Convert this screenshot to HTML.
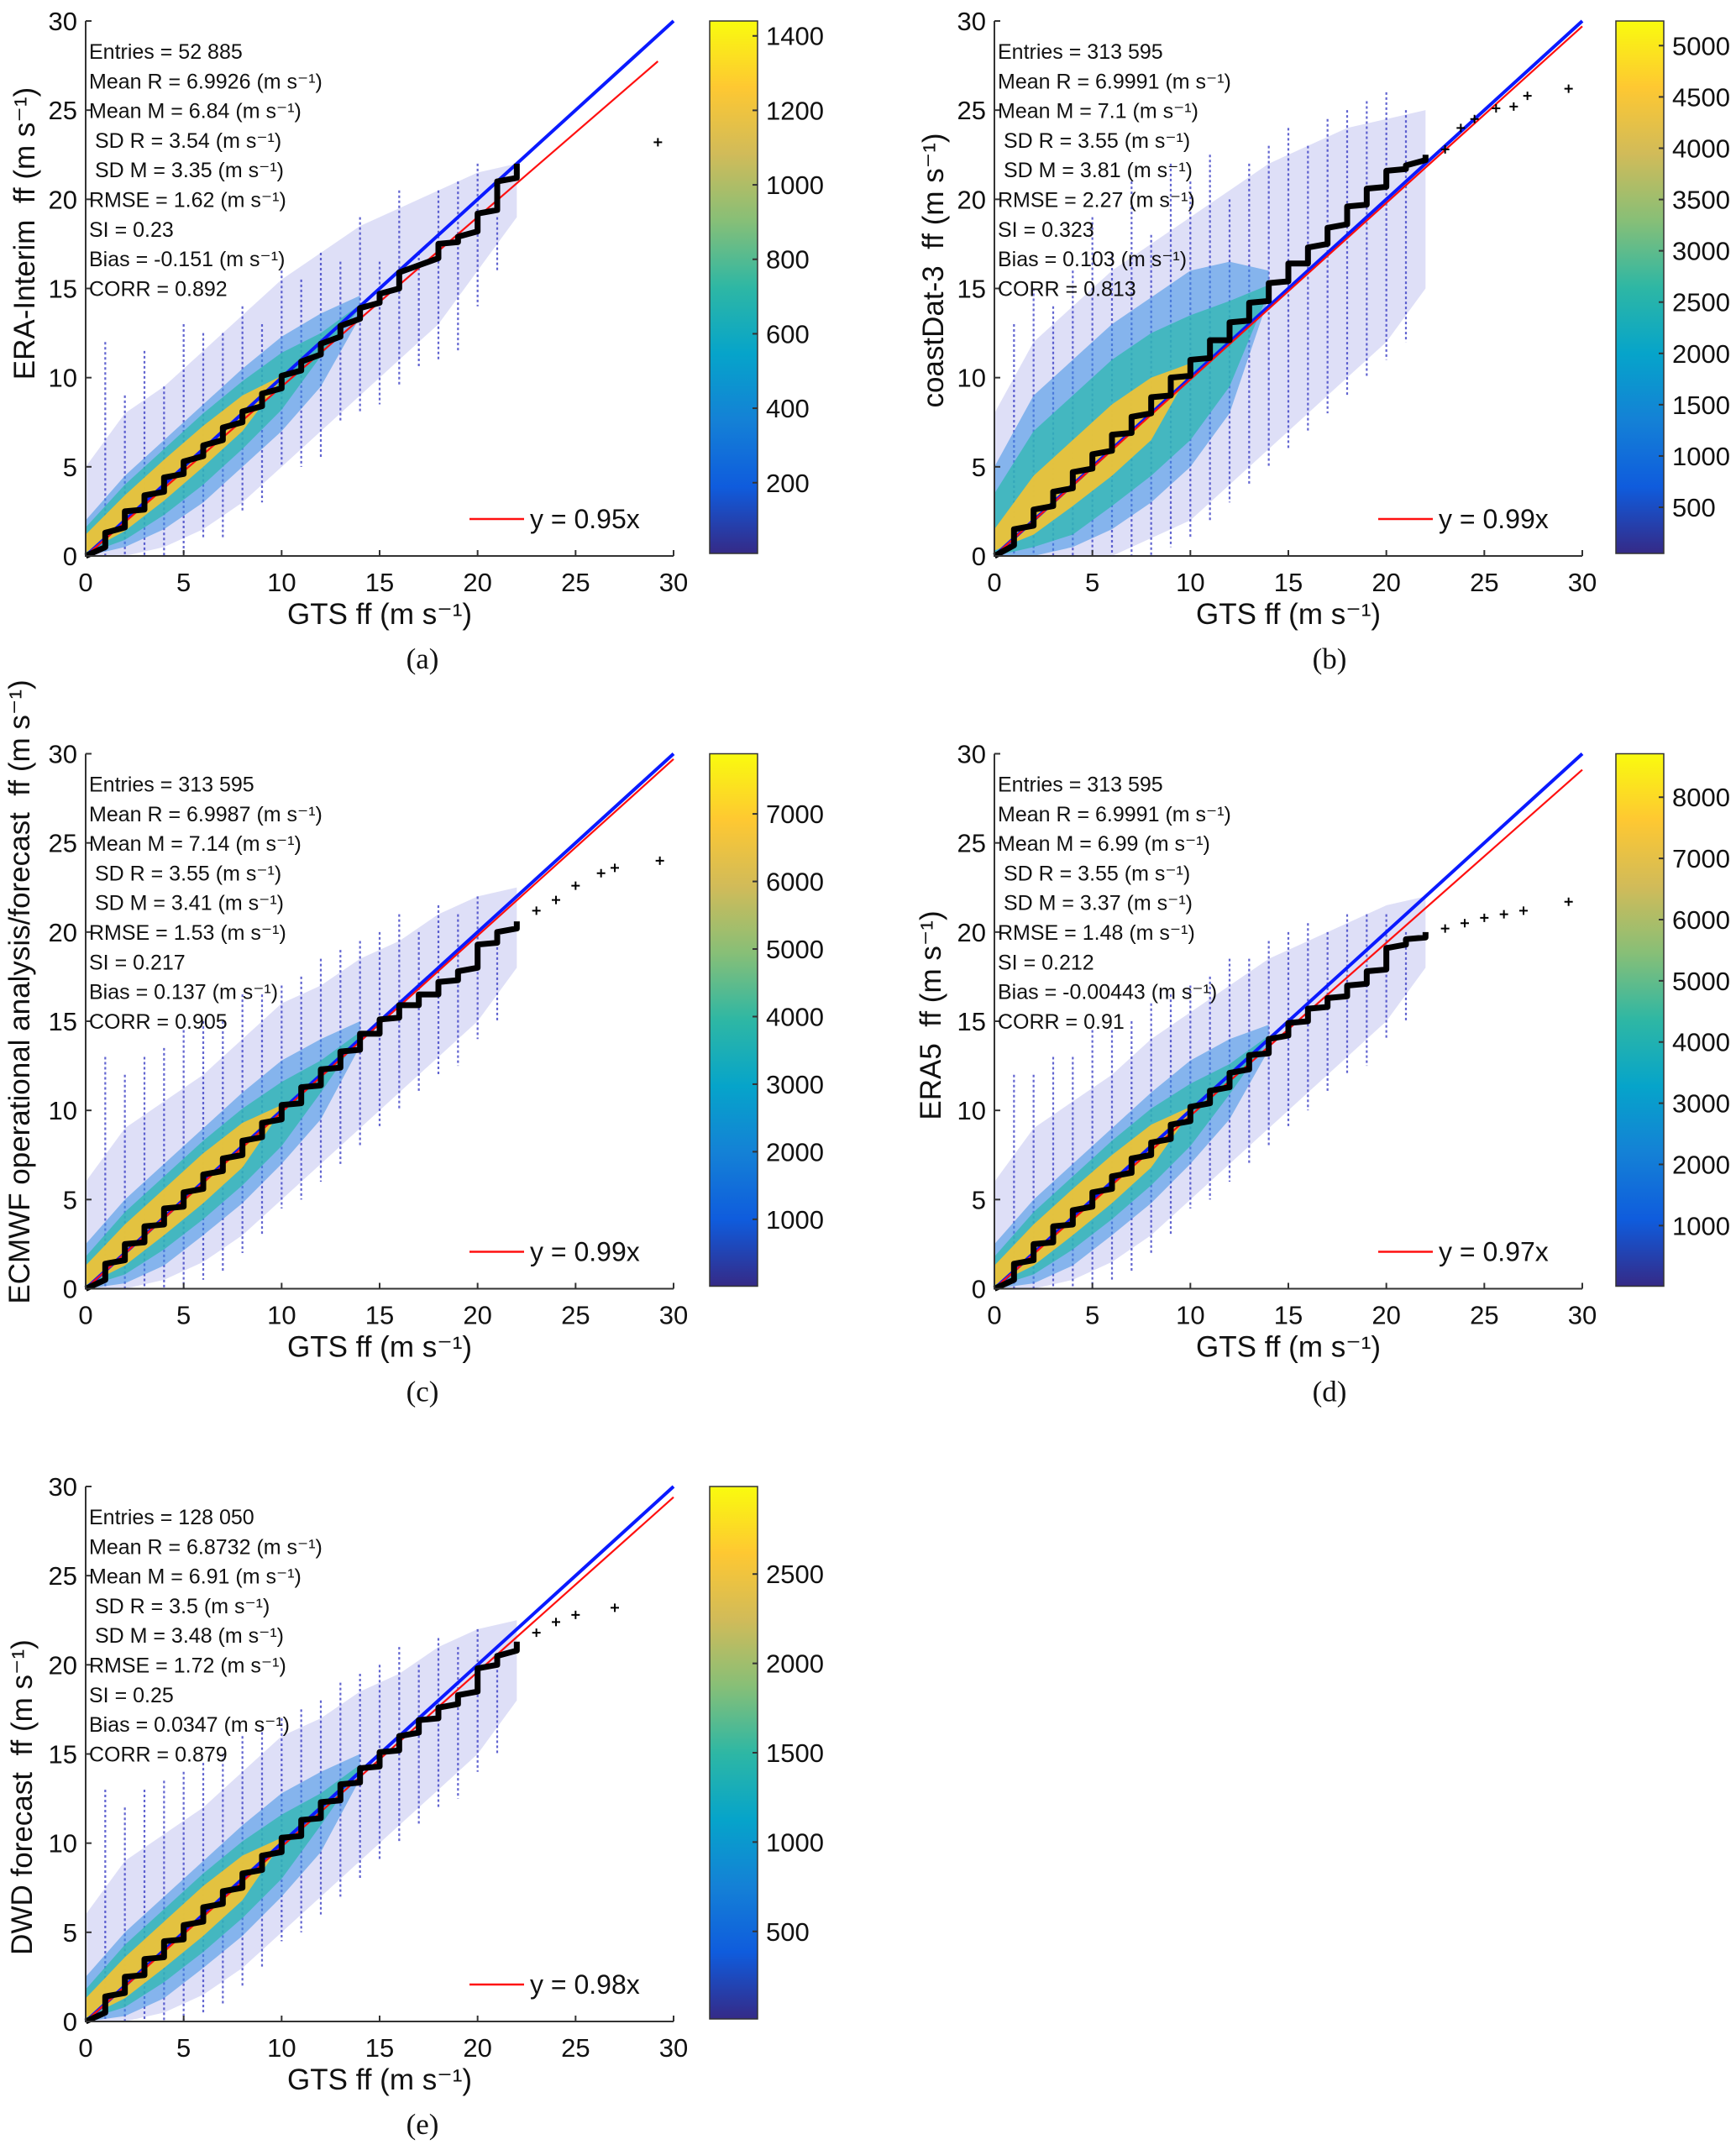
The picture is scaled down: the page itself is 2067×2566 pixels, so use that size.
<!DOCTYPE html>
<html><head><meta charset="utf-8"><style>
html,body{margin:0;padding:0;background:#fff}
svg{display:block}
text{font-family:"Liberation Sans","DejaVu Sans",sans-serif;fill:#111;white-space:pre}
</style></head><body>
<svg id="fig" width="2067" height="2566" viewBox="0 0 2067 2566" xmlns="http://www.w3.org/2000/svg">
<defs>
<linearGradient id="parula" x1="0" y1="1" x2="0" y2="0">
<stop offset="0" stop-color="#352A87"/><stop offset="0.125" stop-color="#0F5CDD"/><stop offset="0.25" stop-color="#1481D6"/><stop offset="0.375" stop-color="#06A4CA"/><stop offset="0.5" stop-color="#2EB7A4"/><stop offset="0.625" stop-color="#87BF77"/><stop offset="0.75" stop-color="#D1BB59"/><stop offset="0.875" stop-color="#FEC832"/><stop offset="1" stop-color="#F9FB0E"/>
</linearGradient>
</defs>
</svg>
<script>
// ---- shared axis data ----
const axisTicks=[0,5,10,15,20,25,30];
const cloudX=[0,2,4,6,8,10,12,14,16,18,20,22];
const midX=[0,2,4,6,8,10,12,14];
const coreX=[0,2,4,6,8,10];
const stairX=[0,1,2,3,4,5,6,7,8,9,10,11,12,13,14,15,16,17,18,19,20,21,22];
const streakX=[1,2,3,4,5,6,7,8,9,10,11,12,13,14,15,16,17,18,19,20,21];

// ---- panel (a) ERA-Interim ----
const statsA=["Entries = 52 885","Mean R = 6.9926 (m s⁻¹)","Mean M = 6.84 (m s⁻¹)"," SD R = 3.54 (m s⁻¹)"," SD M = 3.35 (m s⁻¹)","RMSE = 1.62 (m s⁻¹)","SI = 0.23","Bias = -0.151 (m s⁻¹)","CORR = 0.892"];
const outerHiA=[5,8,9.5,11.5,13.5,15.5,17,18.5,19.5,20.5,21.5,22];
const outerLoA=[0,0,0.5,1.5,3,5,7,9,11,13,16,19];
const midHiA=[2,4.5,6.5,8.5,10.5,12.3,13.6,14.6];
const midLoA=[0,0.5,1.5,3,5,7,9.5,13.4];
const innerHiA=[1.6,4,6,8,9.8,11.4,12.5,14.1];
const innerLoA=[0.1,0.9,2.3,4,6,8.2,11.2,13.9];
const coreHiA=[1.2,3.4,5.4,7.3,9.0,10.1];
const coreLoA=[0.2,1.4,3.1,5.0,7.0,9.9];
const streakTopA=[12,9,11.5,9.5,13,12.5,12.5,14,13,16,15.5,17,16.5,19,16.5,20.5,17,20.5,21,22,19];
const streakBotA=[0,0,0,0,0,1,1,2.5,3,5,5,5.5,7.5,8,8.5,9.5,10.5,11,11.5,14,16];
const stairLoA=[0,0.5,1.6,2.6,3.6,4.6,5.6,6.5,7.5,8.4,9.4,10.4,11.3,12.3,13.3,14.2,15.0,16.3,16.7,17.6,18.2,19.4,21.2];
const stairHiA=[0,1.3,2.5,3.4,4.4,5.3,6.2,7.2,8.1,9.1,10.1,10.9,11.9,12.9,13.9,14.7,15.9,16.3,17.5,17.9,19.2,21.0,22.0];
const tailXA=[29.2];
const tailYA=[23.2];
const slopeA=0.95, fitEndA=29.2;
const cbTicksA=[200,400,600,800,1000,1200,1400];
const cbRangeA=[10,1440];

// ---- panel (b) coastDat-3 ----
const statsB=["Entries = 313 595","Mean R = 6.9991 (m s⁻¹)","Mean M = 7.1 (m s⁻¹)"," SD R = 3.55 (m s⁻¹)"," SD M = 3.81 (m s⁻¹)","RMSE = 2.27 (m s⁻¹)","SI = 0.323","Bias = 0.103 (m s⁻¹)","CORR = 0.813"];
const outerHiB=[8,12,14,16,17.5,19,20.5,22,23,24,24.5,25];
const outerLoB=[0,0,0,0,1,2,4,6,8,10,12,15];
const midHiB=[5,9,11,13,14.5,16,16.5,16];
const midLoB=[0,0,0.5,1.5,3,5,8,14.5];
const innerHiB=[3.5,7,9,11,12.5,13.5,14.3,15.2];
const innerLoB=[0,0.5,1.2,2.8,4.5,6.5,9.5,14.8];
const coreHiB=[1.5,4.5,6.5,8.5,10,10.8];
const coreLoB=[0.3,1.2,2.8,4.5,6.5,10.4];
const streakTopB=[13,15,14,16,19,17,21,18,22,21,22.5,20,22,23,24,23,24.5,25,25.5,26,25];
const streakBotB=[0,0,0,0,0,0,0,0,0.5,1,2,3,4,5,6,7,8,9,10,11,12];
const stairLoB=[0,0.6,1.7,2.8,3.8,4.9,5.9,6.9,8.0,9.0,10.1,11.1,12.1,13.2,14.3,15.4,16.4,17.5,18.6,19.7,20.7,21.7,22.2];
const stairHiB=[0,1.5,2.6,3.6,4.7,5.7,6.8,7.8,8.9,10.0,11.0,12.1,13.1,14.2,15.3,16.4,17.3,18.4,19.6,20.6,21.6,21.9,22.5];
const tailXB=[23,23.8,24.5,25.6,26.5,27.2,29.3];
const tailYB=[22.8,24,24.5,25.1,25.2,25.8,26.2];
const slopeB=0.99, fitEndB=30;
const cbTicksB=[500,1000,1500,2000,2500,3000,3500,4000,4500,5000];
const cbRangeB=[50,5240];

// ---- panel (c) ECMWF ----
const statsC=["Entries = 313 595","Mean R = 6.9987 (m s⁻¹)","Mean M = 7.14 (m s⁻¹)"," SD R = 3.55 (m s⁻¹)"," SD M = 3.41 (m s⁻¹)","RMSE = 1.53 (m s⁻¹)","SI = 0.217","Bias = 0.137 (m s⁻¹)","CORR = 0.905"];
const outerHiC=[6,9,10.5,12,14,16,17,18.5,19.5,21,22,22.5];
const outerLoC=[0,0,0.5,1.5,3,5,7,9,11,13,15,18];
const midHiC=[2.5,5,7,9,11,12.8,14,15];
const midLoC=[0,0.3,1.3,3,4.8,7,9.5,13.6];
const innerHiC=[1.8,4.3,6.3,8.3,10.1,11.6,12.8,14.4];
const innerLoC=[0.1,0.8,2.2,3.9,5.8,8,11,14.2];
const coreHiC=[1.3,3.6,5.6,7.6,9.3,10.3];
const coreLoC=[0.2,1.3,3,4.8,6.8,10];
const streakTopC=[13,12,13,13.5,14.5,15,15,16.5,16.5,17,17.5,18.5,19,19.5,20,21,20,21.5,21,22,20];
const streakBotC=[0,0,0,0,0,0.5,1,2,3,4.5,5,6,7,8,9,10,11,12,12.5,14,15];
const stairLoC=[0,0.5,1.6,2.6,3.6,4.6,5.6,6.6,7.5,8.5,9.5,10.4,11.4,12.4,13.4,14.3,15.2,15.9,16.5,17.3,18.0,19.4,20.2];
const stairHiC=[0,1.4,2.5,3.5,4.5,5.4,6.4,7.3,8.3,9.3,10.3,11.3,12.3,13.3,14.3,15.1,15.9,16.5,17.2,17.8,19.3,20.0,20.6];
const tailXC=[23,24,25,26.3,27,29.3];
const tailYC=[21.2,21.8,22.6,23.3,23.6,24];
const slopeC=0.99, fitEndC=30;
const cbTicksC=[1000,2000,3000,4000,5000,6000,7000];
const cbRangeC=[10,7890];

// ---- panel (d) ERA5 ----
const statsD=["Entries = 313 595","Mean R = 6.9991 (m s⁻¹)","Mean M = 6.99 (m s⁻¹)"," SD R = 3.55 (m s⁻¹)"," SD M = 3.37 (m s⁻¹)","RMSE = 1.48 (m s⁻¹)","SI = 0.212","Bias = -0.00443 (m s⁻¹)","CORR = 0.91"];
const outerHiD=[6,9,10.5,12,14,15.5,17,18.5,19.5,20.5,21.5,22];
const outerLoD=[0,0,0.5,1.5,3,5,7,9,11,13,15,18];
const midHiD=[2.5,5,7,9,11,12.8,14,14.8];
const midLoD=[0,0.3,1.3,3,4.8,7,9.5,13.4];
const innerHiD=[1.8,4.3,6.3,8.3,10.1,11.5,12.6,14.2];
const innerLoD=[0.1,0.8,2.2,3.9,5.8,8,10.9,14];
const coreHiD=[1.3,3.6,5.6,7.5,9.2,10.2];
const coreLoD=[0.2,1.3,3,4.8,6.8,9.9];
const streakTopD=[12,12,13,13,14.5,14.5,15,16,16.5,17,17.5,18.5,18.5,19.5,20,20.5,20,21,21,21,20];
const streakBotD=[0,0,0,0,0,0.5,1,2,3,4.5,5,6,7,8,9,10,11,12,12.5,14,15];
const stairLoD=[0,0.5,1.6,2.6,3.6,4.6,5.6,6.5,7.5,8.4,9.4,10.4,11.3,12.3,13.2,14.2,15.0,15.8,16.4,17.1,17.9,19.3,19.7];
const stairHiD=[0,1.4,2.5,3.5,4.4,5.4,6.3,7.3,8.2,9.2,10.2,11.1,12.1,13.1,14.0,14.9,15.7,16.3,17.0,17.8,19.1,19.6,20.0];
const tailXD=[23,24,25,26,27,29.3];
const tailYD=[20.2,20.5,20.8,21,21.2,21.7];
const slopeD=0.97, fitEndD=30;
const cbTicksD=[1000,2000,3000,4000,5000,6000,7000,8000];
const cbRangeD=[10,8710];

// ---- panel (e) DWD ----
const statsE=["Entries = 128 050","Mean R = 6.8732 (m s⁻¹)","Mean M = 6.91 (m s⁻¹)"," SD R = 3.5 (m s⁻¹)"," SD M = 3.48 (m s⁻¹)","RMSE = 1.72 (m s⁻¹)","SI = 0.25","Bias = 0.0347 (m s⁻¹)","CORR = 0.879"];
const outerHiE=[6,9,10.5,12,14,16,17,18.5,19.5,21,22,22.5];
const outerLoE=[0,0,0.5,1.5,3,5,7,9,11,13,15,18];
const midHiE=[2.5,5,7,9,11,12.8,14,15];
const midLoE=[0,0.3,1.3,3,4.8,7,9.5,13.6];
const innerHiE=[1.8,4.3,6.3,8.3,10.1,11.6,12.8,14.4];
const innerLoE=[0.1,0.8,2.2,3.9,5.8,8,11,14.2];
const coreHiE=[1.3,3.6,5.6,7.6,9.3,10.3];
const coreLoE=[0.2,1.3,3,4.8,6.8,10];
const streakTopE=[13,12,13,13.5,14,14.5,15,16,16.5,17,17.5,18,19,19.5,20,21,20,21.5,21,22,20];
const streakBotE=[0,0,0,0,0,0.5,1,2,3,4.5,5,6,7,8,9,10,11,12,12.5,14,15];
const stairLoE=[0,0.5,1.6,2.6,3.6,4.6,5.6,6.6,7.5,8.5,9.5,10.4,11.4,12.4,13.4,14.3,15.2,16.2,17.0,17.8,18.5,20.0,20.8];
const stairHiE=[0,1.4,2.5,3.5,4.5,5.4,6.4,7.3,8.3,9.3,10.3,11.3,12.3,13.3,14.2,15.1,16.0,16.9,17.6,18.3,19.8,20.5,21.3];
const tailXE=[23,24,25,27];
const tailYE=[21.8,22.4,22.8,23.2];
const slopeE=0.98, fitEndE=30;
const cbTicksE=[500,1000,1500,2000,2500];
const cbRangeE=[10,2990];

const NS="http://www.w3.org/2000/svg";
const fig=document.getElementById('fig');
function mk(tag,attrs,parent){const e=document.createElementNS(NS,tag);for(const k in attrs)e.setAttribute(k,attrs[k]);(parent||fig).appendChild(e);return e;}

const panels=[
 {id:'a',x0:102,x30:802,y30:25,y0:662,cb:[845,902],ylab:"ERA-Interim  ff (m s⁻¹)",ylx:29,yly:278,cap:503,
  stats:statsA,oh:outerHiA,ol:outerLoA,mh:midHiA,ml:midLoA,ih:innerHiA,il:innerLoA,ch:coreHiA,cl:coreLoA,st:streakTopA,sb:streakBotA,sl:stairLoA,sh:stairHiA,tx:tailXA,ty:tailYA,slope:slopeA,fe:fitEndA,ct:cbTicksA,cr:cbRangeA,leg:"y = 0.95x"},
 {id:'b',x0:1184,x30:1884,y30:25,y0:662,cb:[1924,1981],ylab:"coastDat-3  ff (m s⁻¹)",ylx:1111,yly:322,cap:1583,
  stats:statsB,oh:outerHiB,ol:outerLoB,mh:midHiB,ml:midLoB,ih:innerHiB,il:innerLoB,ch:coreHiB,cl:coreLoB,st:streakTopB,sb:streakBotB,sl:stairLoB,sh:stairHiB,tx:tailXB,ty:tailYB,slope:slopeB,fe:fitEndB,ct:cbTicksB,cr:cbRangeB,leg:"y = 0.99x"},
 {id:'c',x0:102,x30:802,y30:897.5,y0:1534.5,cb:[845,902],ylab:"ECMWF operational analysis/forecast  ff (m s⁻¹)",ylx:23,yly:1181,cap:503,
  stats:statsC,oh:outerHiC,ol:outerLoC,mh:midHiC,ml:midLoC,ih:innerHiC,il:innerLoC,ch:coreHiC,cl:coreLoC,st:streakTopC,sb:streakBotC,sl:stairLoC,sh:stairHiC,tx:tailXC,ty:tailYC,slope:slopeC,fe:fitEndC,ct:cbTicksC,cr:cbRangeC,leg:"y = 0.99x"},
 {id:'d',x0:1184,x30:1884,y30:897.5,y0:1534.5,cb:[1924,1981],ylab:"ERA5  ff (m s⁻¹)",ylx:1108,yly:1209,cap:1583,
  stats:statsD,oh:outerHiD,ol:outerLoD,mh:midHiD,ml:midLoD,ih:innerHiD,il:innerLoD,ch:coreHiD,cl:coreLoD,st:streakTopD,sb:streakBotD,sl:stairLoD,sh:stairHiD,tx:tailXD,ty:tailYD,slope:slopeD,fe:fitEndD,ct:cbTicksD,cr:cbRangeD,leg:"y = 0.97x"},
 {id:'e',x0:102,x30:802,y30:1770,y0:2407,cb:[845,902],ylab:"DWD forecast  ff (m s⁻¹)",ylx:26,yly:2140,cap:503,
  stats:statsE,oh:outerHiE,ol:outerLoE,mh:midHiE,ml:midLoE,ih:innerHiE,il:innerLoE,ch:coreHiE,cl:coreLoE,st:streakTopE,sb:streakBotE,sl:stairLoE,sh:stairHiE,tx:tailXE,ty:tailYE,slope:slopeE,fe:fitEndE,ct:cbTicksE,cr:cbRangeE,leg:"y = 0.98x"}
];

function band(g,X,hi,lo,sx,sy,fill,op,name){
  let pts=[];
  for(let i=0;i<hi.length;i++)pts.push(sx(X[i])+','+sy(hi[i]));
  for(let i=lo.length-1;i>=0;i--)pts.push(sx(X[i])+','+sy(lo[i]));
  const p=mk('polygon',{points:pts.join(' '),fill:fill,'fill-opacity':op,'stroke-linejoin':'round'},g);
  
  
}

panels.forEach(P=>{
  const g=mk('g',{});
  
  
  const sx=v=>P.x0+(P.x30-P.x0)*v/30;
  const sy=v=>P.y0-(P.y0-P.y30)*v/30;
  band(g,cloudX,P.oh,P.ol,sx,sy,'#5a5ed8',0.2,'scatter-outer-cloud');
  streakX.forEach((x,i)=>{
    const l=mk('line',{x1:sx(x),x2:sx(x),y1:sy(P.st[i]),y2:sy(P.sb[i]),stroke:'#3b3fc4','stroke-width':2.2,'stroke-dasharray':'3 3','stroke-opacity':0.8},g);
    
    
  });
  band(g,midX,P.mh,P.ml,sx,sy,'#3d8fe6',0.55,'scatter-mid-cloud');
  band(g,midX,P.ih,P.il,sx,sy,'#2fb8b0',0.75,'scatter-inner-cloud');
  band(g,coreX,P.ch,P.cl,sx,sy,'#f5c332',0.9,'scatter-core-cloud');
  const one=mk('line',{x1:sx(0),y1:sy(0),x2:sx(30),y2:sy(30),stroke:'#0a1aff','stroke-width':4},g);
  
  
  const fit=mk('line',{x1:sx(0),y1:sy(0),x2:sx(P.fe),y2:sy(P.fe*P.slope),stroke:'#ff1010','stroke-width':2.2},g);
  
  
  let d='';
  stairX.forEach((x,i)=>{d+=(i?'L':'M')+sx(x)+','+sy(P.sl[i])+' L'+sx(x)+','+sy(P.sh[i])+' ';});
  const st=mk('path',{d:d,fill:'none',stroke:'#000','stroke-width':7,'stroke-linejoin':'round'},g);
  
  
  P.tx.forEach((x,i)=>{
    const c=mk('path',{d:`M${sx(x)-5},${sy(P.ty[i])}h10M${sx(x)},${sy(P.ty[i])-5}v10`,stroke:'#000','stroke-width':2},g);
    
    
  });
  const ax=mk('path',{d:`M${P.x0},${P.y30}V${P.y0}H${P.x30}`,fill:'none',stroke:'#333','stroke-width':2},g);
  
  
  axisTicks.forEach(t=>{
    mk('line',{x1:P.x0,x2:P.x0+7,y1:sy(t),y2:sy(t),stroke:'#333','stroke-width':2},g);
    mk('line',{x1:sx(t),x2:sx(t),y1:P.y0,y2:P.y0-7,stroke:'#333','stroke-width':2},g);
    const yl=mk('text',{x:P.x0-10,y:sy(t)+11,'text-anchor':'end','font-size':31},g);
    yl.textContent=t;
    
    
    const xl=mk('text',{x:sx(t),y:P.y0+42,'text-anchor':'middle','font-size':31},g);
    xl.textContent=t;
    
    
  });
  const xt=mk('text',{x:(P.x0+P.x30)/2,y:P.y0+81,'text-anchor':'middle','font-size':35},g);
  xt.textContent="GTS ff (m s⁻¹)";
  
  
  const yt=mk('text',{x:0,y:0,'text-anchor':'middle','font-size':35,transform:`translate(${P.ylx+12},${P.yly}) rotate(-90)`},g);
  yt.textContent=P.ylab;
  
  
  P.stats.forEach((s,i)=>{
    const t=mk('text',{x:P.x0+4,y:P.y30+45+i*35.3,'font-size':25},g);
    t.textContent=s;
    
    
  });
  const ll=mk('line',{x1:P.x0+457,x2:P.x0+522,y1:P.y0-44,y2:P.y0-44,stroke:'#ff1010','stroke-width':2.5},g);
  
  
  const lt=mk('text',{x:P.x0+529,y:P.y0-33,'font-size':32},g);
  lt.textContent=P.leg;
  
  
  const cbTop=P.y30, cbBot=P.y0-3;
  const cbr=mk('rect',{x:P.cb[0],y:cbTop,width:P.cb[1]-P.cb[0],height:cbBot-cbTop,fill:'url(#parula)',stroke:'#333','stroke-width':1.5},g);
  
  
  const cy=v=>cbBot-(v-P.cr[0])/(P.cr[1]-P.cr[0])*(cbBot-cbTop);
  P.ct.forEach(v=>{
    mk('line',{x1:P.cb[1]-6,x2:P.cb[1],y1:cy(v),y2:cy(v),stroke:'#333','stroke-width':2},g);
    const t=mk('text',{x:P.cb[1]+10,y:cy(v)+11,'font-size':31},g);
    t.textContent=v;
    
    
  });
  const cap=mk('text',{x:P.cap,y:P.y0+134,'text-anchor':'middle','font-size':35,style:'font-family:"Liberation Serif","DejaVu Serif",serif'},g);
  cap.textContent='('+P.id+')';
  
  
});
</script>
</body></html>
